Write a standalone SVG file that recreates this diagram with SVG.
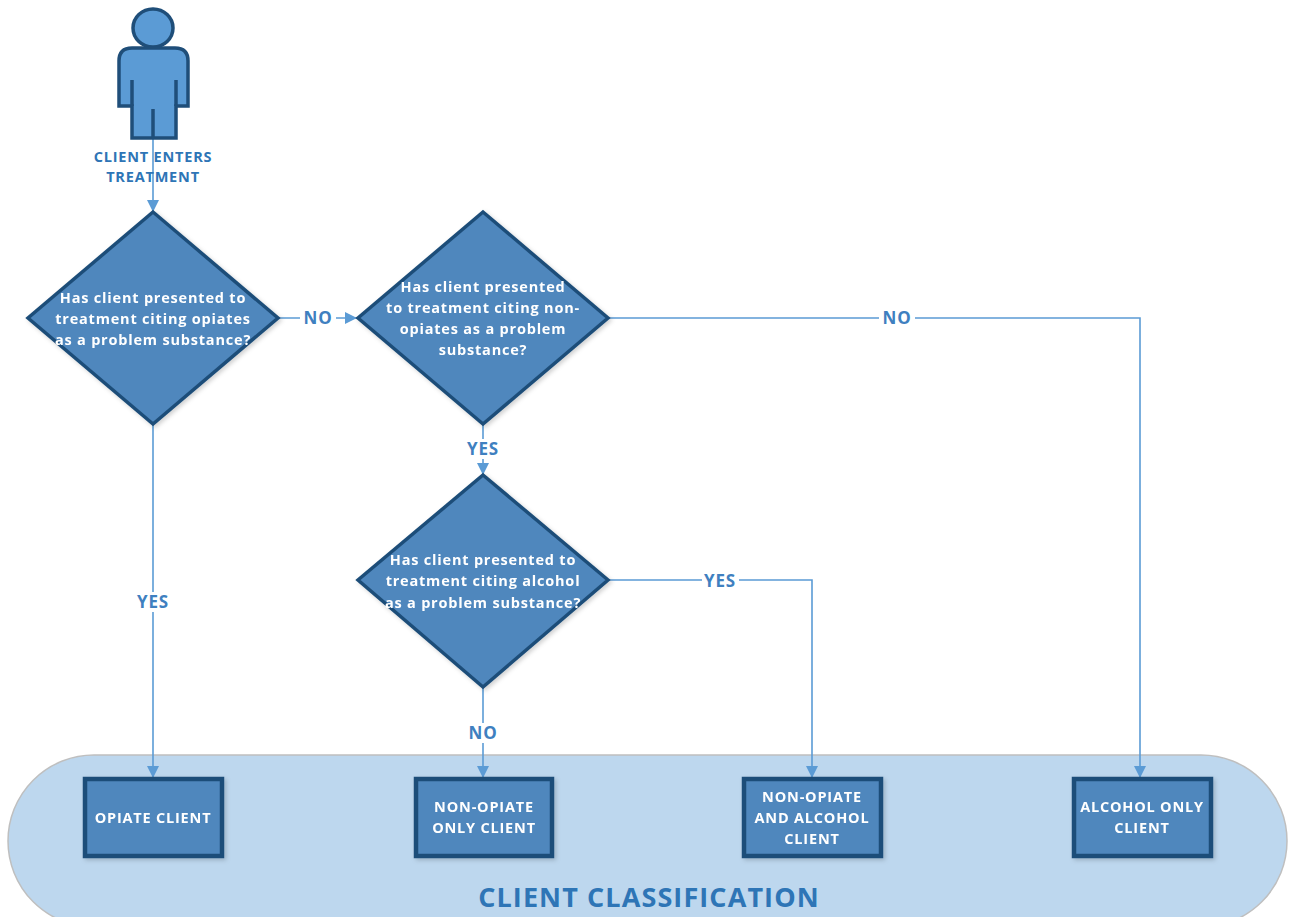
<svg xmlns="http://www.w3.org/2000/svg" width="1289" height="917" viewBox="0 0 1289 917">
<style>
.node{fill:#4F87BD;stroke:#1F4E79;stroke-width:3.5;stroke-linejoin:miter}
.box{fill:#4F87BD;stroke:#1F4E79;stroke-width:4.5}
.wt{font-family:"Open Sans","Liberation Sans",sans-serif;font-weight:bold;font-size:14.5px;letter-spacing:0.8px;fill:#FFFFFF;text-anchor:middle}
.bt{font-family:"Open Sans","Liberation Sans",sans-serif;font-weight:bold;font-size:14.5px;letter-spacing:0.8px;fill:#FFFFFF;text-anchor:middle}
.st{font-family:"Open Sans","Liberation Sans",sans-serif;font-weight:bold;font-size:14.5px;letter-spacing:0.8px;fill:#2E75B6;text-anchor:middle}
.lbl{font-family:"Open Sans","Liberation Sans",sans-serif;font-weight:bold;font-size:17px;letter-spacing:0.8px;fill:#3F80C0;text-anchor:middle}
.conn{fill:none;stroke:#5B9BD5;stroke-width:1.6}
.lb{fill:#FFFFFF}
</style>
<defs>
<marker id="arr" markerWidth="12" markerHeight="12" refX="12" refY="6" orient="auto" markerUnits="userSpaceOnUse">
<path d="M0,0 L12,6 L0,12 Z" fill="#5B9BD5"/>
</marker>
<filter id="sh" x="-10%" y="-10%" width="125%" height="125%">
<feDropShadow dx="2" dy="2" stdDeviation="2" flood-color="#000" flood-opacity="0.18"/>
</filter>
</defs>
<rect width="1289" height="917" fill="#FFFFFF"/>

<g id="container">
<rect x="8" y="755" width="1279" height="172" rx="86" ry="86" fill="#BDD7EE" stroke="#BFBFBF" stroke-width="1.5"/>
<text x="649" y="907" style="font-family:'Open Sans','Liberation Sans',sans-serif;font-weight:bold;font-size:27px;letter-spacing:1.1px;fill:#2E75B6;text-anchor:middle">CLIENT CLASSIFICATION</text>
</g>

<g id="connectors">
<path class="conn" d="M153,138 V212" marker-end="url(#arr)"/>
<path class="conn" d="M278,318 H357" marker-end="url(#arr)"/>
<path class="conn" d="M608,318 H1140 V778" marker-end="url(#arr)"/>
<path class="conn" d="M483,424 V475" marker-end="url(#arr)"/>
<path class="conn" d="M608,580 H812 V778" marker-end="url(#arr)"/>
<path class="conn" d="M483,687 V778" marker-end="url(#arr)"/>
<path class="conn" d="M153,424 V778" marker-end="url(#arr)"/>
<rect class="lb" x="300" y="308" width="36" height="20"/>
<text class="lbl" x="318" y="324">NO</text>
<rect class="lb" x="879" y="308" width="36" height="20"/>
<text class="lbl" x="897" y="324">NO</text>
<rect class="lb" x="465" y="439" width="37" height="20"/>
<text class="lbl" x="483" y="455">YES</text>
<rect class="lb" x="702" y="571" width="37" height="20"/>
<text class="lbl" x="720" y="587">YES</text>
<rect class="lb" x="466" y="723" width="34" height="20"/>
<text class="lbl" x="483" y="739">NO</text>
<rect class="lb" x="135" y="592" width="37" height="20"/>
<text class="lbl" x="153" y="608">YES</text>
</g>

<g id="start">
<ellipse cx="153" cy="28" rx="20" ry="19" fill="#5B9BD5" stroke="#1F4E79" stroke-width="3.5"/>
<path d="M119,106 V61 Q119,48 132,48 H175 Q188,48 188,61 V106 H176 V138 H132 V106 Z" fill="#5B9BD5" stroke="#1F4E79" stroke-width="3.5" stroke-linejoin="miter"/>
<path d="M132,80 V106 M176,80 V106 M153,109 V138" fill="none" stroke="#1F4E79" stroke-width="3.5"/>
<text class="st" x="153" y="162">CLIENT ENTERS</text>
<text class="st" x="153" y="182">TREATMENT</text>
</g>

<g id="q-opiates" filter="url(#sh)">
<polygon class="node" points="153,212 278,318 153,424 28,318"/>
<text class="wt" x="153" y="303">Has client presented to</text>
<text class="wt" x="153" y="324">treatment citing opiates</text>
<text class="wt" x="153" y="345">as a problem substance?</text>
</g>

<g id="q-nonopiates" filter="url(#sh)">
<polygon class="node" points="483,212 608,318 483,424 358,318"/>
<text class="wt" x="483" y="292">Has client presented</text>
<text class="wt" x="483" y="313">to treatment citing non-</text>
<text class="wt" x="483" y="334">opiates as a problem</text>
<text class="wt" x="483" y="355">substance?</text>
</g>

<g id="q-alcohol" filter="url(#sh)">
<polygon class="node" points="483,475 608,580 483,687 358,580"/>
<text class="wt" x="483" y="565">Has client presented to</text>
<text class="wt" x="483" y="586">treatment citing alcohol</text>
<text class="wt" x="483" y="608">as a problem substance?</text>
</g>

<g id="opiate-client" filter="url(#sh)">
<rect class="box" x="85" y="779" width="137" height="77"/>
<text class="bt" x="153" y="823">OPIATE CLIENT</text>
</g>

<g id="nonopiate-only" filter="url(#sh)">
<rect class="box" x="416" y="779" width="136" height="77"/>
<text class="bt" x="484" y="812">NON-OPIATE</text>
<text class="bt" x="484" y="833">ONLY CLIENT</text>
</g>

<g id="nonopiate-alcohol" filter="url(#sh)">
<rect class="box" x="744" y="779" width="137" height="77"/>
<text class="bt" x="812" y="802">NON-OPIATE</text>
<text class="bt" x="812" y="823">AND ALCOHOL</text>
<text class="bt" x="812" y="844">CLIENT</text>
</g>

<g id="alcohol-only" filter="url(#sh)">
<rect class="box" x="1074" y="779" width="137" height="77"/>
<text class="bt" x="1142" y="812">ALCOHOL ONLY</text>
<text class="bt" x="1142" y="833">CLIENT</text>
</g>
</svg>
